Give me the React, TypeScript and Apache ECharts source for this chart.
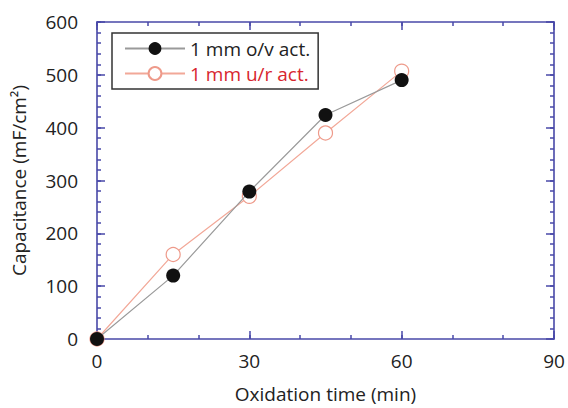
import React, { useEffect, useRef } from "react";
import * as echarts from "echarts";

const timeMin = [0, 15, 30, 45, 60];
const ovAct = [0, 120, 279, 424, 490];
const urAct = [0, 160, 270, 390, 507];
const seriesNames = ["1 mm o/v act.", "1 mm u/r act."];
const xTitle = "Oxidation time (min)";
const yTitle = "Capacitance (mF/cm²)";

const AXIS = "#4848a8";
const FONT = "Open Sans";
const FS = 19;

function tickAxis(pos: string, isX: boolean, major: boolean, labels: boolean, extra: any = {}) {
  const base = isX
    ? { type: "value", min: 0, max: 90, interval: major ? 30 : 10 }
    : { type: "value", min: 0, max: 600, interval: major ? 100 : 20 };
  return {
    ...base,
    position: pos,
    axisLine: { show: major, onZero: false, lineStyle: { color: AXIS, width: 1.6 } },
    axisTick: { show: true, inside: true, length: major ? 8 : 4, lineStyle: { color: AXIS, width: 1.5 } },
    splitLine: { show: false },
    axisLabel: { show: labels, color: "#222", fontSize: FS, fontFamily: FONT },
    ...extra,
  };
}

export default function App() {
  const ref = useRef<HTMLDivElement>(null);
  useEffect(() => {
    document.body.style.margin = "0";
    if (!ref.current) return;
    const chart = echarts.init(ref.current, undefined, { renderer: "svg" });
    chart.setOption({
      animation: false,
      backgroundColor: "#fff",
      grid: { left: 97, top: 22, right: 14, bottom: 63 },
      legend: {
        left: 112,
        top: 33,
        orient: "vertical",
        borderColor: "#333",
        borderWidth: 1.5,
        padding: [6, 8, 6, 12],
        itemWidth: 60,
        itemHeight: 16,
        itemGap: 6,
        textStyle: { fontSize: 19, fontFamily: FONT, color: "#222" },
        data: [
          { name: seriesNames[0], textStyle: { color: "#222" } },
          { name: seriesNames[1], textStyle: { color: "#d8262e" } },
        ],
      },
      xAxis: [
        tickAxis("bottom", true, true, true, {
          axisLabel: { show: true, color: "#222", fontSize: FS, fontFamily: FONT, margin: 12 },
          name: xTitle,
          nameLocation: "middle",
          nameGap: 45,
          nameTextStyle: { fontSize: FS, fontFamily: FONT, color: "#222" },
        }),
        tickAxis("bottom", true, false, false),
        tickAxis("top", true, true, false),
        tickAxis("top", true, false, false),
      ],
      yAxis: [
        tickAxis("left", false, true, true, {
          axisLabel: { show: true, color: "#222", fontSize: FS, fontFamily: FONT, margin: 19 },
          name: yTitle,
          nameLocation: "middle",
          nameGap: 69,
          nameTextStyle: { fontSize: FS, fontFamily: FONT, color: "#222" },
        }),
        tickAxis("left", false, false, false),
        tickAxis("right", false, true, false),
        tickAxis("right", false, false, false),
      ],
      series: [
        {
          name: seriesNames[1],
          type: "line",
          xAxisIndex: 0,
          yAxisIndex: 0,
          data: timeMin.map((t, i) => [t, urAct[i]]),
          symbol: "circle",
          symbolSize: 14,
          lineStyle: { color: "#f2a898", width: 1.2 },
          itemStyle: { color: "#fff", borderColor: "#ee9a8a", borderWidth: 1.2 },
          z: 2,
        },
        {
          name: seriesNames[0],
          type: "line",
          xAxisIndex: 0,
          yAxisIndex: 0,
          data: timeMin.map((t, i) => [t, ovAct[i]]),
          symbol: "circle",
          symbolSize: 14,
          lineStyle: { color: "#9a9a9a", width: 1.2 },
          itemStyle: { color: "#111", borderColor: "#111", borderWidth: 0 },
          z: 3,
        },
      ],
    });
    return () => chart.dispose();
  }, []);
  return <div ref={ref} style={{ width: 568, height: 408 }} />;
}
